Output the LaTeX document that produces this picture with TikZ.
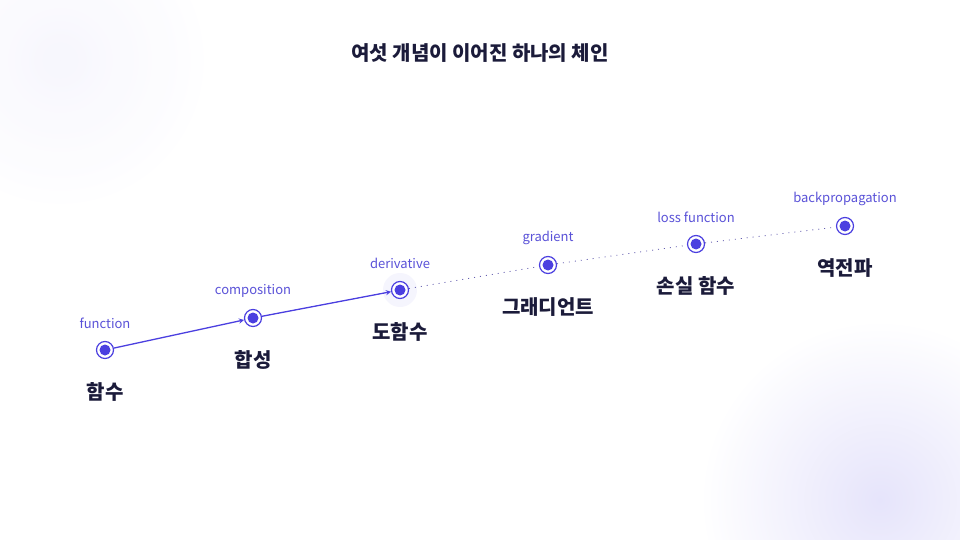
\documentclass[tikz,border=0pt]{standalone}
\usepackage{fontspec}
\setmainfont{Noto Sans CJK KR}
\usetikzlibrary{positioning,calc}
\definecolor{ink}{HTML}{1B1B3A}
\definecolor{chain}{HTML}{4B3FE0}
\definecolor{sub}{HTML}{5A52D8}
\tikzset{
  ring/.style={circle, draw=chain, line width=1.2pt, fill=white, minimum size=17pt, inner sep=0pt},
  core/.style={circle, fill=chain, minimum size=11pt, inner sep=0pt},
  ko/.style={font=\fontsize{20}{22}\selectfont\bfseries, text=ink},
  en/.style={font=\fontsize{13}{15}\selectfont, text=sub},
  faint/.style={chain!50!gray, line width=0.8pt, dash pattern=on 1pt off 5pt},
}
\begin{document}
\begin{tikzpicture}[x=1pt,y=-1pt]
		\useasboundingbox (0,0) rectangle (960,540);
		\clip (0,0) rectangle (960,540);
		\fill[white] (0,0) rectangle (960,540);
		\shade[inner color=chain!14, outer color=white] (880,500) circle (180pt);
		\shade[inner color=chain!6, outer color=white, opacity=0.7] (60,60) circle (150pt);
		
		\node[font=\fontsize{20}{22}\selectfont\bfseries, text=ink] (title) at (480,53) {여섯 개념이 이어진 하나의 체인};
		
		% chain steps
		\fill[chain, opacity=0.05] (400,290) circle (17pt);
		\foreach \name/\x/\y/\ko/\en in {a/105/350/함수/function, b/253/318/합성/composition, c/400/290/도함수/derivative, d/548/265/그래디언트/gradient, e/696/244/손실 함수/loss function, f/845/226/역전파/backpropagation}{
			\node[ring] (\name) at (\x,\y) {};
			\node[core] (\name c) at (\name.center) {};
			\node[ko, shift={(0,42)}] (\name k) at (\name.center) {\ko};
			\node[en, shift={(0,-27)}] (\name e) at (\name.center) {\en};
		}
		
		\draw[-stealth, chain, line width=1.3pt] (a)--(b);
		\draw[-stealth, chain, line width=1.3pt] (b)--(c);
		\draw[faint] (c)--(d);
		\draw[faint] (d)--(e);
		\draw[faint] (e)--(f);
	\end{tikzpicture}
\end{document}
